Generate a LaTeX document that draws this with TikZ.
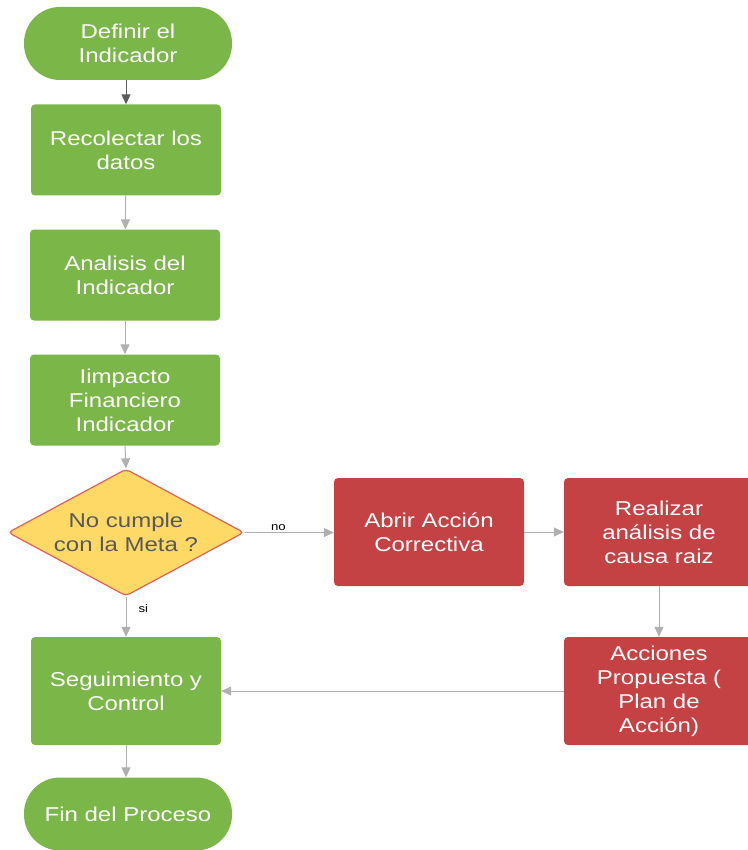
\documentclass[tikz,border=0pt]{standalone}
\usepackage{fontspec}
\setmainfont{Liberation Sans}[FakeStretch=1.2]
\usetikzlibrary{shapes.geometric,arrows.meta}
\definecolor{lgreen}{HTML}{7AB648}
\definecolor{lred}{HTML}{C44244}
\definecolor{lyellow}{HTML}{FFD966}
\definecolor{lyedge}{HTML}{E0605A}
\definecolor{lgray}{HTML}{B0B0B0}
\definecolor{dgray}{HTML}{5A5A5A}
\definecolor{ltext}{HTML}{595959}
\begin{document}
\begin{tikzpicture}[x=1pt,y=-1pt,
  base/.style={font=\fontsize{20}{24}\selectfont, text=white, align=center, inner sep=0pt},
  greenbox/.style={base, fill=lgreen, rounded corners=4pt, minimum width=190pt, minimum height=91pt},
  greenbig/.style={greenbox, minimum height=108pt},
  redbox/.style={base, fill=lred, rounded corners=4pt, minimum width=190pt, minimum height=108pt},
  term/.style={base, fill=lgreen, rounded corners=36pt, minimum width=208pt, minimum height=73pt},
  decision/.style={base, text=ltext, shape=diamond, aspect=1.86, fill=lyellow, draw=lyedge, line width=1.2pt, rounded corners=4pt, minimum width=236pt, minimum height=127pt},
  conn/.style={draw=lgray, line width=1pt, -{Triangle[length=10pt,width=9pt]}},
  darkconn/.style={draw=dgray, line width=1pt, -{Triangle[length=10pt,width=9pt]}},
  lbl/.style={font=\fontsize{11}{13}\selectfont, text=black, inner sep=0pt}
]
\useasboundingbox[fill=white] (0,0) rectangle (747,850);
\node[term] (start) at (128,43.5) {Definir el\\Indicador};
\node[greenbox] (recol) at (126,150) {Recolectar los\\datos};
\node[greenbox] (anal) at (125,275) {Analisis del\\Indicador};
\node[greenbox] (imp) at (125,400) {Iimpacto\\Financiero\\Indicador};
\node[decision] (dec) at (126,532.5) {No cumple\\con la Meta ?};
\node[redbox] (abrir) at (429,532) {Abrir Acción\\Correctiva};
\node[redbox] (real) at (659,532) {Realizar\\análisis de\\causa raiz};
\node[redbox] (acc) at (659,691) {Acciones\\Propuesta (\\Plan de\\Acción)};
\node[greenbig] (seg) at (126,691) {Seguimiento y\\Control};
\node[term] (fin) at (128,814) {Fin del Proceso};
\draw[darkconn] (start.south -| recol.north) -- (recol.north);
\draw[conn] (recol) -- (anal);
\draw[conn] (anal) -- (imp);
\draw[conn] (imp.south) -- (dec.north);
\draw[conn] (dec.east) -- node[lbl, above=1.5pt, pos=0.38] (no) {no} (dec.east -| abrir.west);
\draw[conn] (abrir) -- (real);
\draw[conn] (real) -- (acc);
\draw[conn] (acc.west) -- (acc.west -| seg.east);
\draw[conn] (dec.south) -- node[lbl, right=12pt, pos=0.3] (si) {si} (seg.north);
\draw[conn] (seg.south) -- (fin.north -| seg.south);
\end{tikzpicture}
\end{document}
